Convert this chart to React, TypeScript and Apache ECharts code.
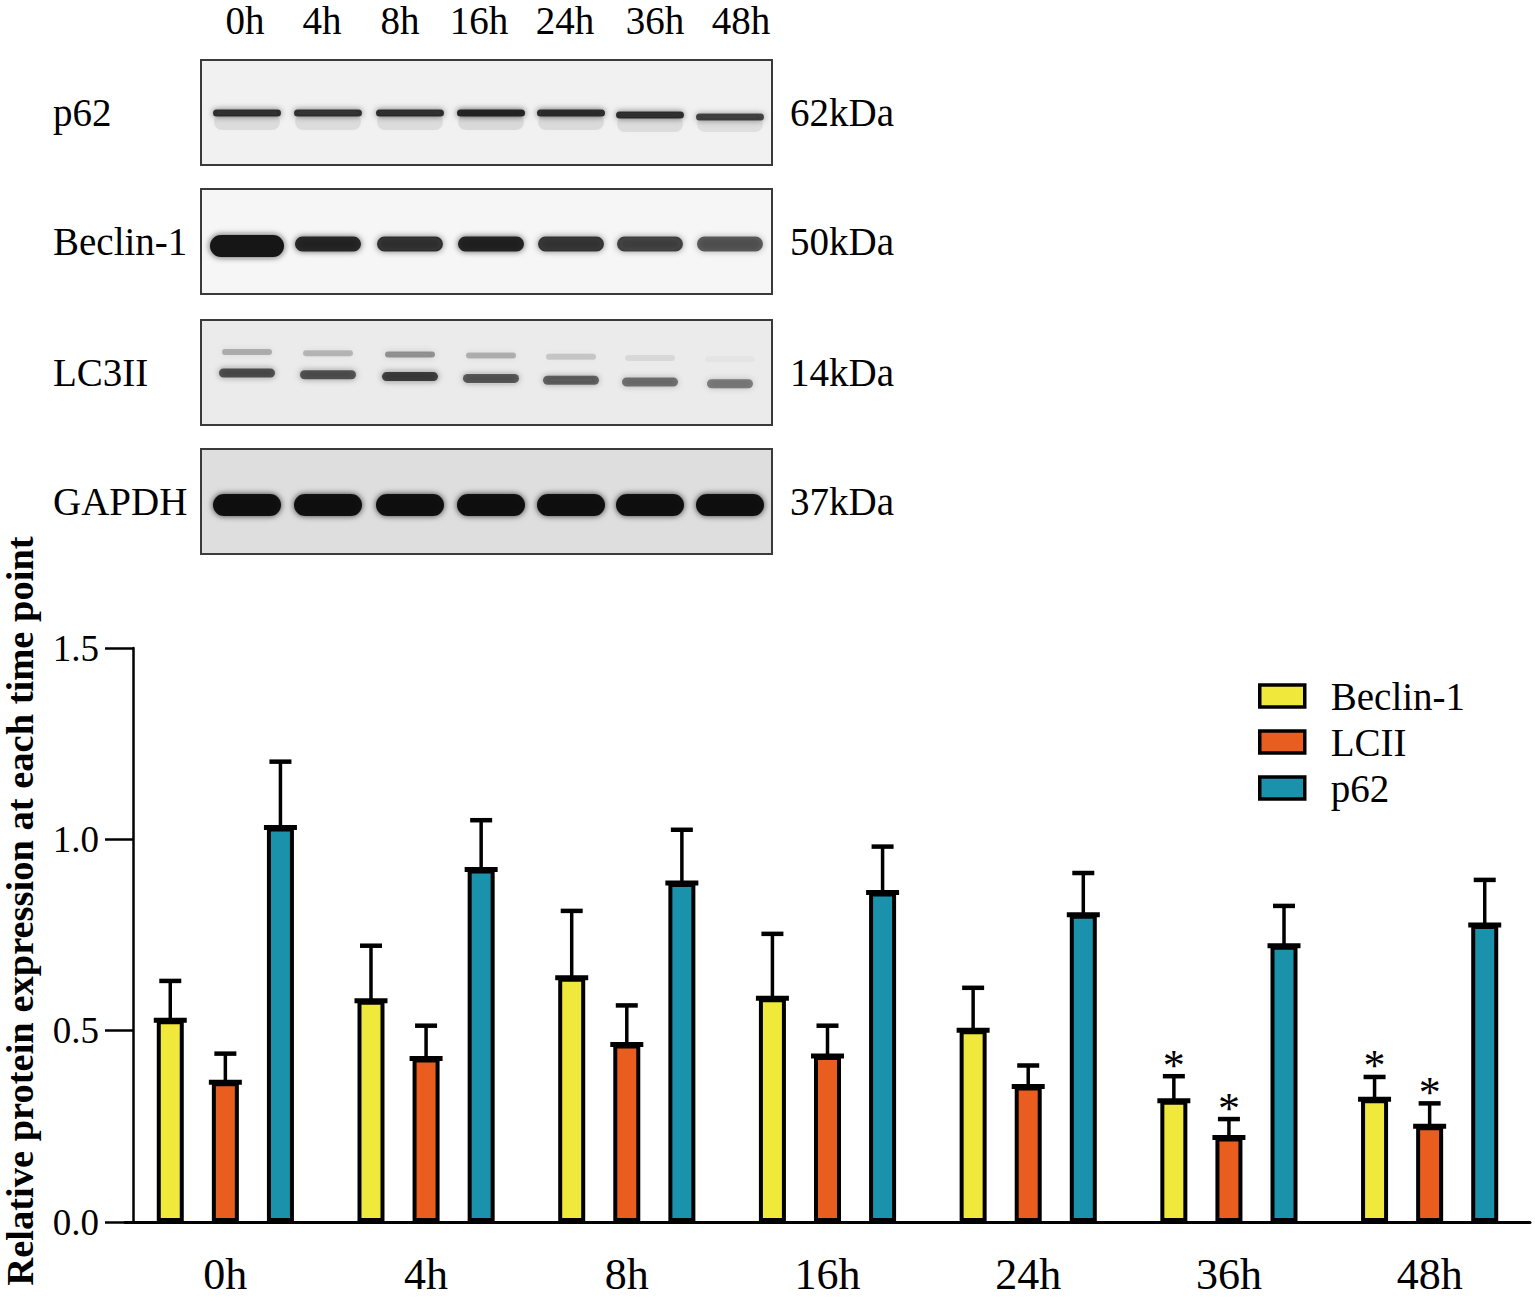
import React, { useEffect, useRef } from "react";
import * as echarts from "echarts";

// ---------- data ----------
const categories = ["0h", "4h", "8h", "16h", "24h", "36h", "48h"];
const seriesNames = ["Beclin-1", "LCII", "p62"];
const beclinMean = [0.527, 0.578, 0.638, 0.585, 0.501, 0.317, 0.321];
const beclinSD = [0.103, 0.144, 0.175, 0.168, 0.111, 0.064, 0.058];
const lcMean = [0.365, 0.427, 0.464, 0.434, 0.354, 0.221, 0.25];
const lcSD = [0.075, 0.086, 0.102, 0.079, 0.055, 0.048, 0.06];
const p62Mean = [1.031, 0.921, 0.886, 0.861, 0.803, 0.722, 0.776];
const p62SD = [0.172, 0.129, 0.139, 0.12, 0.109, 0.104, 0.118];
const beclinStar = [0, 0, 0, 0, 0, 1, 1];
const lcStar = [0, 0, 0, 0, 0, 1, 1];
const p62Star = [0, 0, 0, 0, 0, 0, 0];
const yAxisTitle = "Relative protein expression at each time point";

// western blot (band intensity 0..1, read by eye)
const blotLanes = ["0h", "4h", "8h", "16h", "24h", "36h", "48h"];
const blotRows = ["p62", "Beclin-1", "LC3II", "GAPDH"];
const blotSizes = ["62kDa", "50kDa", "14kDa", "37kDa"];
const p62Band = [0.82, 0.8, 0.82, 0.9, 0.86, 0.82, 0.72];
const beclinBand = [1.0, 0.88, 0.8, 0.9, 0.78, 0.72, 0.62];
const lc3MainBand = [0.72, 0.7, 0.8, 0.68, 0.62, 0.55, 0.5];
const lc3UpperBand = [0.3, 0.25, 0.42, 0.28, 0.18, 0.08, 0.03];
const gapdhBand = [1, 1, 1, 1, 1, 1, 1];

// ---------- layout / style ----------
const W = 1535;
const H = 1301;
const FONT = "'Liberation Serif', 'Times New Roman', serif";
const colors = ["#F0E83A", "#E95E1E", "#1B92AB"];
const BAR_W = 27;
const BAR_GAP = 1.04;
const laneX = [247, 328, 410, 491, 571, 650, 730];
const laneLabelX = [245, 322, 400, 479, 565, 655, 741];
const boxX = 201;
const boxW = 571;
const boxTop = [60, 189, 320, 449];
const boxH = 105;
const boxFill = ["#f1f1f1", "#f6f6f6", "#ebebeb", "#dedede"];

function band(cx: number, cy: number, w: number, h: number, k: number, shade = 15) {
  const a = Math.max(0, Math.min(1, k));
  return {
    type: "rect",
    silent: true,
    shape: { x: cx - w / 2, y: cy - h / 2, width: w, height: h, r: h / 2 },
    style: {
      fill: `rgba(${shade},${shade},${shade},${a})`,
      shadowBlur: 6,
      shadowColor: `rgba(${shade},${shade},${shade},${a * 0.8})`,
    },
  };
}

function buildBlot(): any[] {
  const els: any[] = [];
  blotLanes.forEach((lab, i) => {
    els.push({
      type: "text",
      x: laneLabelX[i],
      y: 20,
      style: { text: lab, font: `39px ${FONT}`, fill: "#000", textAlign: "center", textVerticalAlign: "middle" },
    });
  });
  blotRows.forEach((row, r) => {
    const top = boxTop[r];
    els.push({
      type: "rect",
      silent: true,
      shape: { x: boxX, y: top, width: boxW, height: boxH },
      style: { fill: boxFill[r], stroke: "#3a3a3a", lineWidth: 2 },
    });
    els.push({
      type: "text",
      x: 53,
      y: top + boxH / 2,
      style: { text: row, font: `39px ${FONT}`, fill: "#000", textAlign: "left", textVerticalAlign: "middle" },
    });
    els.push({
      type: "text",
      x: 790,
      y: top + boxH / 2,
      style: { text: blotSizes[r], font: `39px ${FONT}`, fill: "#000", textAlign: "left", textVerticalAlign: "middle" },
    });
  });
  // p62 bands
  p62Band.forEach((k, i) => {
    els.push(band(laneX[i], 122 + (i > 4 ? 2 : 0), 66, 16, k * 0.13, 60));
    els.push(band(laneX[i], 113 + (i > 4 ? 2 + (i - 5) * 2 : 0), 68, 7, k, 20));
  });
  // Beclin-1 bands
  beclinBand.forEach((k, i) => {
    const h = i === 0 ? 22 : 15;
    const w = i === 0 ? 74 : 66;
    els.push(band(laneX[i], 244 + (i === 0 ? 2 : 0), w, h, k, 20));
  });
  // LC3II bands
  lc3UpperBand.forEach((k, i) => {
    els.push(band(laneX[i], 352 + i * 1.2, 50, 6, k, 40));
  });
  lc3MainBand.forEach((k, i) => {
    const w = i === 6 ? 46 : 56;
    els.push(band(laneX[i], 373 + i * 1.8, w, 9, k, 30));
  });
  // GAPDH bands
  gapdhBand.forEach((k, i) => {
    els.push(band(laneX[i], 505, 68, 22, k * 0.97, 12));
  });
  // y-axis title
  els.push({
    type: "text",
    x: 20,
    y: 911,
    rotation: Math.PI / 2,
    style: {
      text: yAxisTitle,
      font: `bold 38.5px ${FONT}`,
      fill: "#000",
      textAlign: "center",
      textVerticalAlign: "middle",
    },
  });
  return els;
}

function errSeries(k: number, mean: number[], sd: number[], star: number[]) {
  const step = BAR_W * (1 + BAR_GAP);
  return {
    type: "custom",
    name: "err" + k,
    z: 5,
    silent: true,
    encode: { x: 0, y: 1 },
    data: categories.map((_, i) => [i, mean[i], sd[i], star[i]]),
    renderItem: (params: any, api: any) => {
      const ci = api.value(0);
      const m = api.value(1);
      const s = api.value(2);
      const st = api.value(3);
      const base = api.coord([ci, m]);
      const cap = api.coord([ci, m + s]);
      const x = base[0] + (k - 1) * step;
      const children: any[] = [
        {
          type: "line",
          shape: { x1: x - BAR_W / 2 - 3, y1: base[1], x2: x + BAR_W / 2 + 3, y2: base[1] },
          style: { stroke: "#000", lineWidth: 5 },
        },
        {
          type: "line",
          shape: { x1: x, y1: base[1], x2: x, y2: cap[1] },
          style: { stroke: "#000", lineWidth: 3.5 },
        },
        {
          type: "line",
          shape: { x1: x - 11, y1: cap[1], x2: x + 11, y2: cap[1] },
          style: { stroke: "#000", lineWidth: 4.5 },
        },
      ];
      if (st) {
        children.push({
          type: "text",
          x: x,
          y: cap[1] - 11,
          style: { text: "*", font: `44px ${FONT}`, fill: "#000", textAlign: "center", textVerticalAlign: "middle" },
        });
      }
      return { type: "group", children };
    },
  };
}

function barSeries(k: number, data: number[]) {
  return {
    type: "bar",
    name: seriesNames[k],
    data,
    barWidth: BAR_W,
    barGap: `${Math.round(BAR_GAP * 100)}%`,
    itemStyle: { color: colors[k], borderColor: "#000", borderWidth: 4 },
    z: 3,
  };
}

export default function App() {
  const ref = useRef<HTMLDivElement>(null);
  useEffect(() => {
    if (!ref.current) return;
    const chart = echarts.init(ref.current, undefined, { renderer: "svg", width: W, height: H });
    chart.setOption({
      animation: false,
      backgroundColor: "#fff",
      textStyle: { fontFamily: FONT },
      grid: { left: 125, right: 5, top: 648, bottom: 79, containLabel: false },
      legend: {
        data: seriesNames,
        orient: "vertical",
        left: 1253,
        top: 671,
        itemWidth: 45,
        itemHeight: 22,
        itemGap: 6,
        selectedMode: false,
        icon: "rect",
        itemStyle: { borderColor: "#000", borderWidth: 3.5 },
        formatter: (name: string) => `{g| }${name}`,
        textStyle: {
          fontSize: 39,
          fontFamily: FONT,
          color: "#000",
          lineHeight: 40,
          rich: { g: { width: 21, fontSize: 39 } },
        },
      },
      xAxis: {
        type: "category",
        data: categories,
        axisLine: { lineStyle: { color: "#000", width: 3 } },
        axisTick: { alignWithLabel: true, length: 27, lineStyle: { color: "#000", width: 2 } },
        axisLabel: { fontSize: 44, color: "#000", margin: 30, fontFamily: FONT },
      },
      yAxis: {
        type: "value",
        min: 0,
        max: 1.5,
        interval: 0.5,
        offset: -8,
        axisLine: { show: true, lineStyle: { color: "#000", width: 2.5 } },
        axisTick: { show: true, length: 28, lineStyle: { color: "#000", width: 2.5 } },
        axisLabel: {
          fontSize: 37,
          color: "#000",
          margin: 34,
          fontFamily: FONT,
          formatter: (v: number) => v.toFixed(1),
        },
        splitLine: { show: false },
      },
      graphic: buildBlot(),
      series: [
        barSeries(0, beclinMean),
        barSeries(1, lcMean),
        barSeries(2, p62Mean),
        errSeries(0, beclinMean, beclinSD, beclinStar),
        errSeries(1, lcMean, lcSD, lcStar),
        errSeries(2, p62Mean, p62SD, p62Star),
      ],
    });
    return () => chart.dispose();
  }, []);
  return (
    <div
      ref={ref}
      style={{ position: "fixed", left: 0, top: 0, width: W, height: H, background: "#fff" }}
    />
  );
}
